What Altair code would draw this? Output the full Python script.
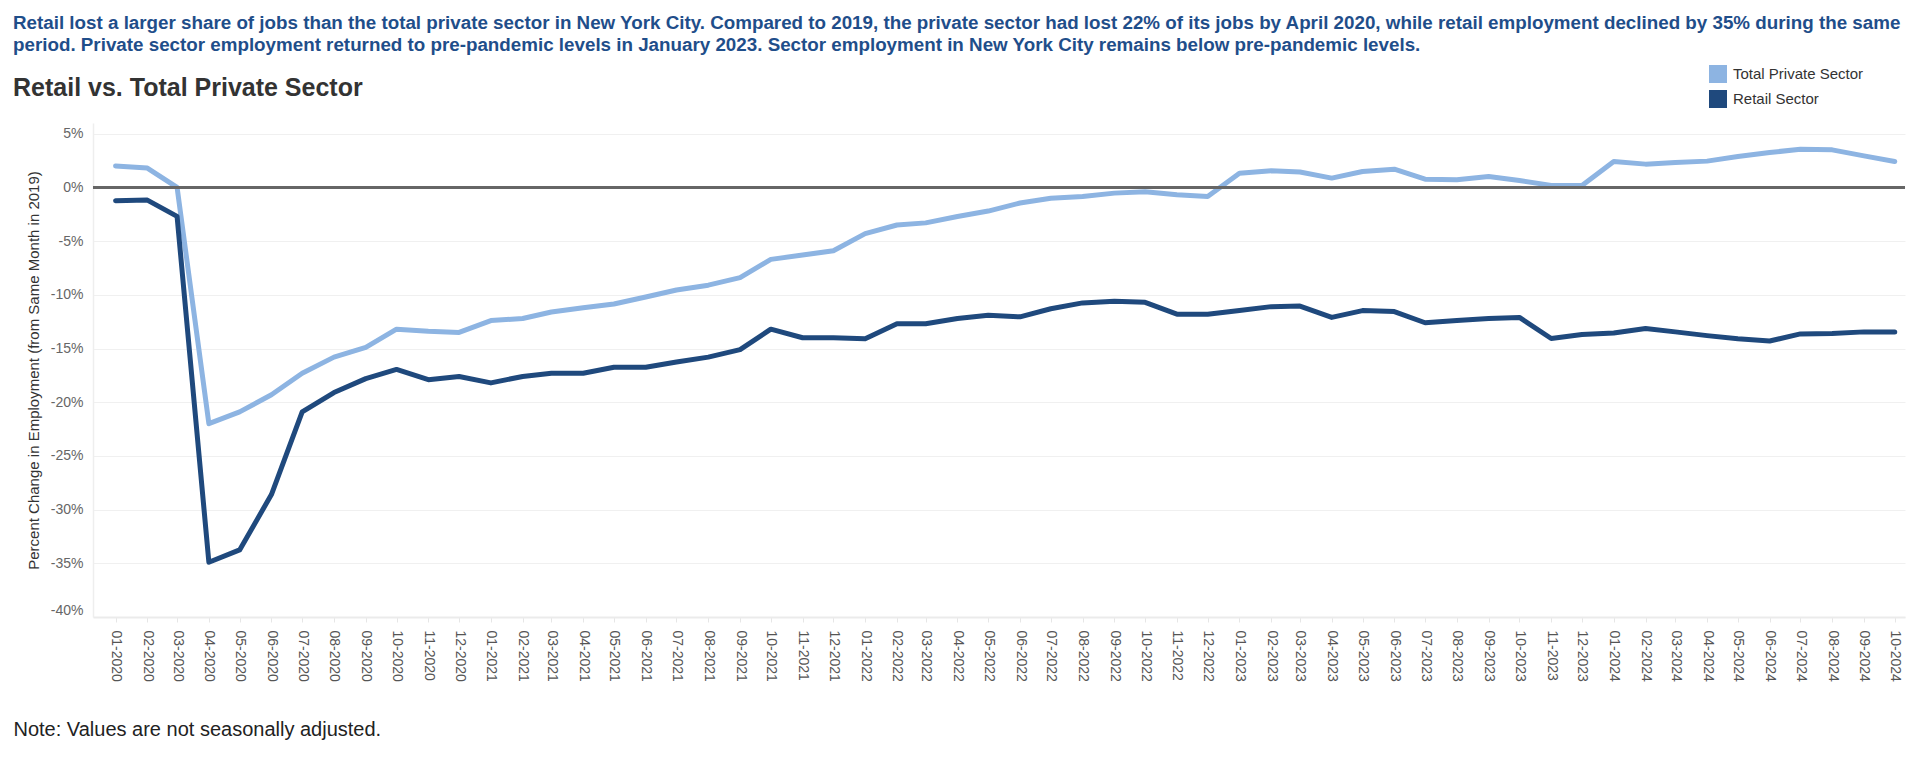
import altair as alt
import pandas as pd

months = [
    "01-2020", "02-2020", "03-2020", "04-2020", "05-2020", "06-2020", "07-2020", "08-2020", "09-2020", "10-2020", "11-2020", "12-2020",
    "01-2021", "02-2021", "03-2021", "04-2021", "05-2021", "06-2021", "07-2021", "08-2021", "09-2021", "10-2021", "11-2021", "12-2021",
    "01-2022", "02-2022", "03-2022", "04-2022", "05-2022", "06-2022", "07-2022", "08-2022", "09-2022", "10-2022", "11-2022", "12-2022",
    "01-2023", "02-2023", "03-2023", "04-2023", "05-2023", "06-2023", "07-2023", "08-2023", "09-2023", "10-2023", "11-2023", "12-2023",
    "01-2024", "02-2024", "03-2024", "04-2024", "05-2024", "06-2024", "07-2024", "08-2024", "09-2024", "10-2024",
]

total_private = [
    2.0, 1.8, 0.0, -22.0, -20.9, -19.3, -17.3, -15.8, -14.9, -13.2, -13.4, -13.5,
    -12.4, -12.2, -11.6, -11.2, -10.85, -10.2, -9.55, -9.1, -8.4, -6.7, -6.3, -5.9,
    -4.3, -3.5, -3.3, -2.7, -2.2, -1.45, -1.0, -0.84, -0.53, -0.4, -0.68, -0.84,
    1.33, 1.55, 1.43, 0.87, 1.49, 1.70, 0.77, 0.71, 1.02, 0.65, 0.19, 0.19,
    2.42, 2.17, 2.32, 2.45, 2.88, 3.25, 3.56, 3.5, 2.94, 2.42,
]

retail = [
    -1.24, -1.18, -2.7, -34.9, -33.75, -28.6, -20.9, -19.1, -17.8, -16.95, -17.9, -17.6,
    -18.2, -17.6, -17.3, -17.3, -16.75, -16.75, -16.25, -15.8, -15.1, -13.2, -14.0, -14.0,
    -14.1, -12.7, -12.7, -12.2, -11.9, -12.05, -11.3, -10.75, -10.6, -10.7, -11.8, -11.8,
    -11.45, -11.1, -11.05, -12.1, -11.47, -11.56, -12.6, -12.4, -12.2, -12.1, -14.07, -13.7,
    -13.55, -13.14, -13.45, -13.8, -14.1, -14.3, -13.64, -13.6, -13.45, -13.45,
]

series_names = ["Total Private Sector", "Retail Sector"]
series_colors = ["#8db4e2", "#1f497d"]
y_ticks = [-40, -35, -30, -25, -20, -15, -10, -5, 0, 5]

title_lines = [
    "Retail lost a larger share of jobs than the total private sector in New York City. Compared to 2019, the private sector had lost 22% of its jobs by April 2020, while retail employment declined by 35% during the same",
    "period. Private sector employment returned to pre-pandemic levels in January 2023. Sector employment in New York City remains below pre-pandemic levels.",
]
subtitle = "Retail vs. Total Private Sector"
y_title = "Percent Change in Employment (from Same Month in 2019)"
note = "Note: Values are not seasonally adjusted."

dates = [m[3:] + "-" + m[:2] + "-01T00:00:00" for m in months]
rows = []
for name, vals in zip(series_names, [total_private, retail]):
    for d, v in zip(dates, vals):
        rows.append({"date": d, "value": v, "series": name})
df = pd.DataFrame(rows)

FONT = "Liberation Sans"
W, H = 1812, 494

x_enc = alt.X(
    "date:T",
    scale=alt.Scale(domain=[alt.DateTime(year=2019, month=12, date=10),
                            alt.DateTime(year=2024, month=10, date=11)]),
    axis=alt.Axis(
        format="%m-%Y",
        tickCount=alt.TimeIntervalStep(interval="month", step=1),
        labelAngle=90,
        labelOverlap=False,
        labelFlush=False,
        labelFontSize=14,
        labelColor="#555555",
        labelPadding=8,
        tickSize=5,
        tickColor="#e6e6e6",
        domainColor="#ebebeb",
        domainWidth=2,
        grid=False,
        title=note,
        titleFont=FONT,
        titleFontSize=20,
        titleFontWeight="normal",
        titleColor="#222222",
        titleAngle=0,
        titleAlign="left",
        titleBaseline="alphabetic",
        titleX=-80,
        titleY=118,
    ),
)

y_enc = alt.Y(
    "value:Q",
    scale=alt.Scale(domain=[-40, 6], nice=False, zero=False),
    axis=alt.Axis(
        values=y_ticks,
        labelExpr="(datum.value < 0 ? '-' : '') + abs(datum.value) + '%'",
        labelFlush=1,
        labelFontSize=14,
        labelColor="#666666",
        labelPadding=10,
        ticks=False,
        grid=True,
        gridColor="#f0f0f0",
        gridWidth=1,
        domainColor="#eeeeee",
        domainWidth=1.5,
        title=y_title,
        titleFont=FONT,
        titleFontSize=15,
        titleFontWeight="normal",
        titleColor="#333333",
        titleAngle=-90,
        titleAlign="center",
        titleBaseline="middle",
        titleX=-60,
        titleY=H / 2,
    ),
)

def make_legend():
    return alt.Legend(
        title=None,
        orient="none",
        legendX=1616,
        legendY=-58,
        direction="vertical",
        symbolType="square",
        symbolSize=324,
        symbolStrokeWidth=0,
        rowPadding=7,
        labelOffset=6,
        labelFont=FONT,
        labelFontSize=15,
        labelColor="#333333",
    )

lines = alt.Chart(df).mark_line(strokeWidth=5, strokeCap="round", strokeJoin="round").encode(
    x=x_enc,
    y=y_enc,
    color=alt.Color(
        "series:N",
        scale=alt.Scale(domain=series_names, range=series_colors),
        sort=series_names,
        legend=make_legend(),
    ),
    order=alt.Order("date:T"),
)

# legend carrier: filled squares (no rows drawn) so the swatches are solid
legend_layer = alt.Chart(df).transform_filter("false").mark_square(filled=True, opacity=1).encode(
    x="date:T",
    y="value:Q",
    fill=alt.Fill(
        "series:N",
        scale=alt.Scale(domain=series_names, range=series_colors),
        sort=series_names,
        legend=make_legend(),
    ),
)

zero = alt.Chart(df).mark_rule(color="#666666", strokeWidth=2).encode(y=alt.datum(0))

chart = alt.layer(lines, zero, legend_layer).properties(
    width=W,
    height=H,
    title=alt.TitleParams(
        text=title_lines,
        subtitle=subtitle,
        anchor="start",
        frame="group",
        dx=-80,
        offset=-35.5,
        font=FONT,
        fontSize=18.8,
        fontWeight="bold",
        color="#1f4e8a",
        lineHeight=22,
        subtitleFont=FONT,
        subtitleFontSize=25,
        subtitleFontWeight="bold",
        subtitleColor="#333333",
        subtitlePadding=21,
    ),
    autosize=alt.AutoSizeParams(type="none"),
    padding={"left": 85, "top": 115, "right": 5, "bottom": 140},
).configure(font=FONT, background="white").configure_view(stroke=None)

chart.save("out.html", embed_options={"renderer": "svg", "actions": False})
